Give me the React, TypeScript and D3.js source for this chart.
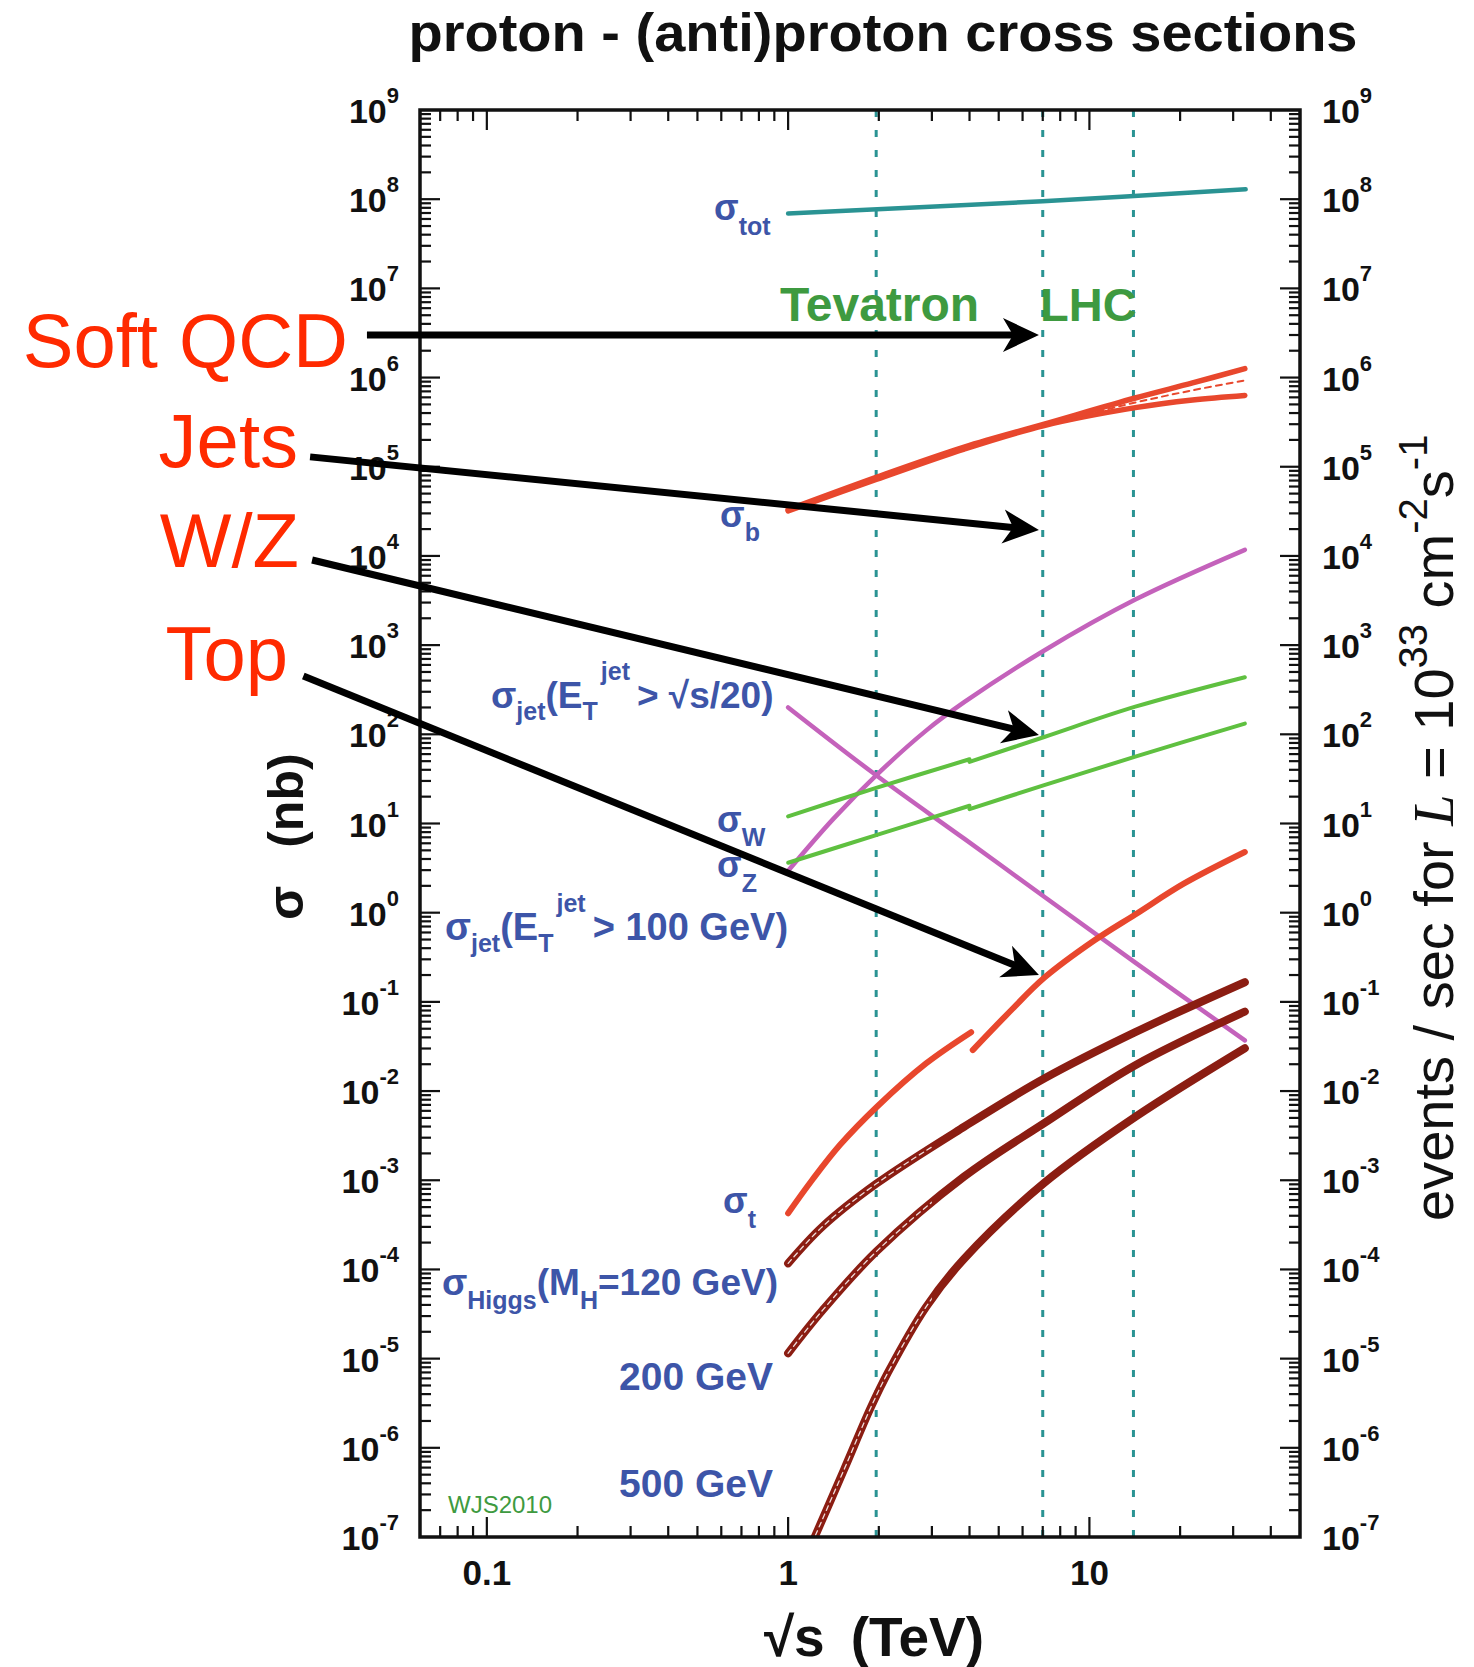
import React from "react";
import * as d3 from "d3";

// ---------- data (sqrt(s) in TeV, sigma in nb) ----------
const totE = [1, 7, 33];
const totSigma = [6.9e7, 9.5e7, 1.29e8];

const bE = [1, 1.96, 3.84, 7.08, 14.2, 22, 32.8];
const bSigmaUpper = [3.3e4, 7.6e4, 1.66e5, 3.0e5, 5.9e5, 8.7e5, 1.26e6];
const bSigmaLower = [3.2e4, 7.2e4, 1.58e5, 2.9e5, 4.6e5, 5.6e5, 6.3e5];
const bMidE = [7.08, 14.2, 22, 32.8];
const bSigmaMid = [2.95e5, 5.25e5, 7.2e5, 9.3e5];

const jet100E = [1, 1.41, 1.96, 2.87, 3.84, 7.08, 14.2, 32.8];
const jet100Sigma = [2.95, 11.2, 34.7, 110, 229, 871, 3240, 1.17e4];

const jetS20E = [1, 1.96, 3.84, 7.08, 14.2, 32.8];
const jetS20Sigma = [200, 34.7, 6.76, 1.51, 0.275, 0.037];

const ppbarE = [1, 1.96, 4.0];
const ppE = [4.0, 7.08, 14.2, 32.8];
const wPpbar = [12.0, 25.1, 52.5];
const wPp = [49.0, 93.3, 204, 437];
const zPpbar = [3.63, 7.41, 15.8];
const zPp = [14.5, 26.9, 56.2, 132];

const topPpbarE = [1, 1.2, 1.49, 1.98, 2.87, 4.05];
const topPpbar = [4.27e-4, 1.0e-3, 2.51e-3, 6.76e-3, 2.04e-2, 4.57e-2];
const topPpE = [4.1, 5.55, 7.08, 10.4, 14.2, 20.7, 32.8];
const topPp = [0.0288, 0.0832, 0.186, 0.49, 0.955, 2.14, 4.79];

const higgsE = [1, 1.3, 1.96, 3.84, 7.08, 14.2, 32.8];
const higgs120 = [1.17e-4, 3.02e-4, 9.12e-4, 3.98e-3, 1.38e-2, 4.57e-2, 0.166];
const higgs200 = [1.15e-5, 3.47e-5, 1.58e-4, 1.1e-3, 4.37e-3, 1.95e-2, 7.76e-2];
const higgs500E = [1.2, 1.53, 1.88, 2.15, 2.87, 3.84, 7.08, 14.2, 32.8];
const higgs500 = [8.5e-8, 5.6e-7, 2.82e-6, 7.1e-6, 3.8e-5, 1.32e-4, 9.33e-4, 5.13e-3, 3.02e-2];

const colliderE = [1.96, 7, 14];

const yExponents = [-7, -6, -5, -4, -3, -2, -1, 0, 1, 2, 3, 4, 5, 6, 7, 8, 9];
const xTickLabels = [0.1, 1, 10];

const annotLabels = ["Soft QCD", "Jets", "W/Z", "Top"];
const arrowFromE = [0.04, 0.0259, 0.0263, 0.0246];
const arrowFromS = [3.0e6, 1.29e5, 9.0e3, 451];
const arrowToE = [6.8, 6.8, 6.8, 6.8];
const arrowToS = [3.0e6, 1.95e4, 98, 0.2];

// ---------- styling ----------
const FONT = "'Liberation Sans', Arial, Helvetica, sans-serif";
const BLUE = "#3d55a8";
const ANNOT_RED = "#ff2a00";
const RED = "#e8472d";
const DARK_RED = "#8b1d12";
const MAGENTA = "#c462bb";
const GREEN = "#5fc040";
const TEAL = "#2a9393";
const TXT_GREEN = "#3e9a40";

export default function App() {
  const x = d3.scaleLog().domain([0.06, 50]).range([420, 1300]);
  const y = d3.scaleLog().domain([1e-7, 1e9]).range([1537, 110]);
  const left = 420, right = 1300, top = 110, bottom = 1537;

  const path = (E: number[], S: number[]) =>
    d3
      .line<number>()
      .x((d) => x(d))
      .y((_, i) => y(S[i]))
      .curve(d3.curveCatmullRom.alpha(0.5))(E) || "";

  const isMajor = (t: number) => Math.abs(Math.log10(t) - Math.round(Math.log10(t))) < 1e-6;
  const xTicks = x.ticks().filter((t) => x(t) > left + 1 && x(t) < right - 1);
  const yTicks: number[] = [];
  for (let k = -7; k <= 8; k++) for (let m = 1; m <= 9; m++) yTicks.push(m * Math.pow(10, k));
  const yTicksIn = yTicks.filter((t) => y(t) < bottom - 1 && y(t) > top + 1);

  const MAJ = 20, MIN = 11;

  const arrows = annotLabels.map((_, i) => {
    const sx = x(arrowFromE[i]), sy = y(arrowFromS[i]);
    const tx = x(arrowToE[i]), ty = y(arrowToS[i]);
    const dx = tx - sx, dy = ty - sy;
    const len = Math.hypot(dx, dy);
    const ux = dx / len, uy = dy / len;
    const px = -uy, py = ux;
    const L = 36, Wd = 17;
    const bx = tx - ux * L, by = ty - uy * L;
    const nx = tx - ux * L * 0.72, ny = ty - uy * L * 0.72;
    const head = `M${tx},${ty} L${bx + px * Wd},${by + py * Wd} L${nx},${ny} L${bx - px * Wd},${by - py * Wd} Z`;
    return { sx, sy, ex: tx - ux * L * 0.6, ey: ty - uy * L * 0.6, head };
  });
  const annotTextEnd = [348, 298, 299, 288];
  const annotBaseline = [367, 467, 567, 680];

  return (
    <svg
      width={1474}
      height={1667}
      style={{ position: "absolute", left: 0, top: 0, background: "#fff" }}
      fontFamily={FONT}
    >
      <defs>
        <clipPath id="plot">
          <rect x={left} y={top} width={right - left} height={bottom - top} />
        </clipPath>
        <clipPath id="lowE">
          <rect x={left} y={top} width={x(3) - left} height={bottom - top} />
        </clipPath>
      </defs>

      {/* title */}
      <text x={883} y={51} textAnchor="middle" fontSize={54} fontWeight="bold" textLength={949} lengthAdjust="spacingAndGlyphs" fill="#111">
        proton - (anti)proton cross sections
      </text>

      {/* collider dashed lines */}
      {colliderE.map((e) => (
        <line key={e} x1={x(e)} x2={x(e)} y1={top} y2={bottom} stroke={TEAL} strokeWidth={3} strokeDasharray="7,13" />
      ))}

      <g clipPath="url(#plot)" fill="none" strokeLinecap="round" strokeLinejoin="round">
        <path d={path(totE, totSigma)} stroke={TEAL} strokeWidth={4.5} />
        <path d={path(bE, bSigmaLower)} stroke={RED} strokeWidth={5.5} />
        <path d={path(bE, bSigmaUpper)} stroke={RED} strokeWidth={5.5} />
        <path d={path(bMidE, bSigmaMid)} stroke={RED} strokeWidth={2} strokeDasharray="6,5" />
        <path d={path(jet100E, jet100Sigma)} stroke={MAGENTA} strokeWidth={4.5} />
        <path d={path(jetS20E, jetS20Sigma)} stroke={MAGENTA} strokeWidth={4.5} />
        <path d={path(ppbarE, wPpbar)} stroke={GREEN} strokeWidth={4} />
        <path d={path(ppE, wPp)} stroke={GREEN} strokeWidth={4} />
        <path d={path(ppbarE, zPpbar)} stroke={GREEN} strokeWidth={4} />
        <path d={path(ppE, zPp)} stroke={GREEN} strokeWidth={4} />
        <path d={path(topPpbarE, topPpbar)} stroke={RED} strokeWidth={6} />
        <path d={path(topPpE, topPp)} stroke={RED} strokeWidth={6} />
        {[
          [higgsE, higgs120],
          [higgsE, higgs200],
          [higgs500E, higgs500],
        ].map(([E, S], i) => (
          <g key={i}>
            <path d={path(E, S)} stroke={DARK_RED} strokeWidth={8} />
            <path d={path(E, S)} stroke="#fff" strokeWidth={1.3} strokeDasharray="5,4" clipPath="url(#lowE)" opacity={0.85} />
          </g>
        ))}
      </g>

      {/* frame */}
      <rect x={left} y={top} width={right - left} height={bottom - top} fill="none" stroke="#111" strokeWidth={3.5} />

      {/* x ticks (bottom and top, inward) */}
      {xTicks.map((t) => {
        const l = isMajor(t) ? MAJ : MIN;
        return (
          <g key={"x" + t} stroke="#111" strokeWidth={2.2}>
            <line x1={x(t)} x2={x(t)} y1={bottom} y2={bottom - l} />
            <line x1={x(t)} x2={x(t)} y1={top} y2={top + l} />
          </g>
        );
      })}
      {/* y ticks (left and right, inward) */}
      {yTicksIn.map((t) => {
        const l = isMajor(t) ? MAJ : MIN;
        return (
          <g key={"y" + t} stroke="#111" strokeWidth={2.2}>
            <line x1={left} x2={left + l} y1={y(t)} y2={y(t)} />
            <line x1={right} x2={right - l} y1={y(t)} y2={y(t)} />
          </g>
        );
      })}

      {/* y tick labels */}
      {yExponents.map((k) => (
        <g key={"yl" + k} fontWeight="bold" fill="#111">
          <text x={399} y={y(Math.pow(10, k)) + 13} textAnchor="end" fontSize={34}>
            10<tspan dy={-20} fontSize={22}>{k < 0 ? "-" + -k : String(k)}</tspan>
          </text>
          <text x={1322} y={y(Math.pow(10, k)) + 13} textAnchor="start" fontSize={34}>
            10<tspan dy={-20} fontSize={22}>{k < 0 ? "-" + -k : String(k)}</tspan>
          </text>
        </g>
      ))}

      {/* x tick labels */}
      {xTickLabels.map((t) => (
        <text key={"xl" + t} x={x(t)} y={1585} textAnchor="middle" fontSize={35} fontWeight="bold" fill="#111">
          {String(t)}
        </text>
      ))}

      {/* axis titles */}
      <text x={874} y={1656} textAnchor="middle" fontSize={55} fontWeight="bold" fill="#111">
        √s<tspan dx={26}>(TeV)</tspan>
      </text>
      <text transform="translate(303,920) rotate(-90)" fontSize={50} fontWeight="bold" fill="#111">
        σ<tspan dx={38}>(nb)</tspan>
      </text>
      <text transform="translate(1453,1221) rotate(-90)" fontSize={56} fill="#111">
        events / sec for <tspan fontFamily="'Liberation Serif', 'Times New Roman', serif" fontStyle="italic">L</tspan> = 10
        <tspan dy={-26} fontSize={40}>33</tspan>
        <tspan dy={26}> cm</tspan>
        <tspan dy={-26} fontSize={40}>-2</tspan>
        <tspan dy={26}>s</tspan>
        <tspan dy={-26} fontSize={40}>-1</tspan>
      </text>

      {/* collider labels */}
      <text x={780} y={321} fontSize={48} fontWeight="bold" fill={TXT_GREEN}>Tevatron</text>
      <text x={1040} y={321} fontSize={47} fontWeight="bold" fill={TXT_GREEN}>LHC</text>
      <text x={448} y={1513} fontSize={24} fill={TXT_GREEN}>WJS2010</text>

      {/* process labels */}
      <g fill={BLUE} fontWeight="bold">
        <text x={714} y={220} fontSize={36}>σ<tspan dy={15} fontSize={25}>tot</tspan></text>
        <text x={720} y={527} fontSize={36}>σ<tspan dy={14} fontSize={25}>b</tspan></text>
        <text x={491} y={708} fontSize={37}>
          σ<tspan dy={12} fontSize={25}>jet</tspan>
          <tspan dy={-12}>(E</tspan>
          <tspan dy={12} fontSize={25}>T</tspan>
          <tspan dy={-40} dx={3} fontSize={25}>jet</tspan>
          <tspan dy={28} dx={7}>&gt; √s/20)</tspan>
        </text>
        <text x={717} y={832} fontSize={36}>σ<tspan dy={14} fontSize={25}>W</tspan></text>
        <text x={717} y={877} fontSize={36}>σ<tspan dy={15} fontSize={25}>Z</tspan></text>
        <text x={445} y={940} fontSize={38}>
          σ<tspan dy={12} fontSize={25}>jet</tspan>
          <tspan dy={-12}>(E</tspan>
          <tspan dy={12} fontSize={25}>T</tspan>
          <tspan dy={-40} dx={3} fontSize={25}>jet</tspan>
          <tspan dy={28} dx={7}>&gt; 100 GeV)</tspan>
        </text>
        <text x={723} y={1213} fontSize={36}>σ<tspan dy={15} fontSize={25}>t</tspan></text>
        <text x={442} y={1295} fontSize={37}>
          σ<tspan dy={14} fontSize={25}>Higgs</tspan>
          <tspan dy={-14}>(M</tspan>
          <tspan dy={14} fontSize={25}>H</tspan>
          <tspan dy={-14}>=120 GeV)</tspan>
        </text>
        <text x={773} y={1390} fontSize={39} textAnchor="end">200 GeV</text>
        <text x={773} y={1497} fontSize={39} textAnchor="end">500 GeV</text>
      </g>

      {/* annotations */}
      {arrows.map((a, i) => (
        <g key={"ar" + i}>
          <line x1={a.sx} y1={a.sy} x2={a.ex} y2={a.ey} stroke="#000" strokeWidth={7} />
          <path d={a.head} fill="#000" />
          <text x={annotTextEnd[i]} y={annotBaseline[i]} textAnchor="end" fontSize={76} fill={ANNOT_RED}>
            {annotLabels[i]}
          </text>
        </g>
      ))}
    </svg>
  );
}
